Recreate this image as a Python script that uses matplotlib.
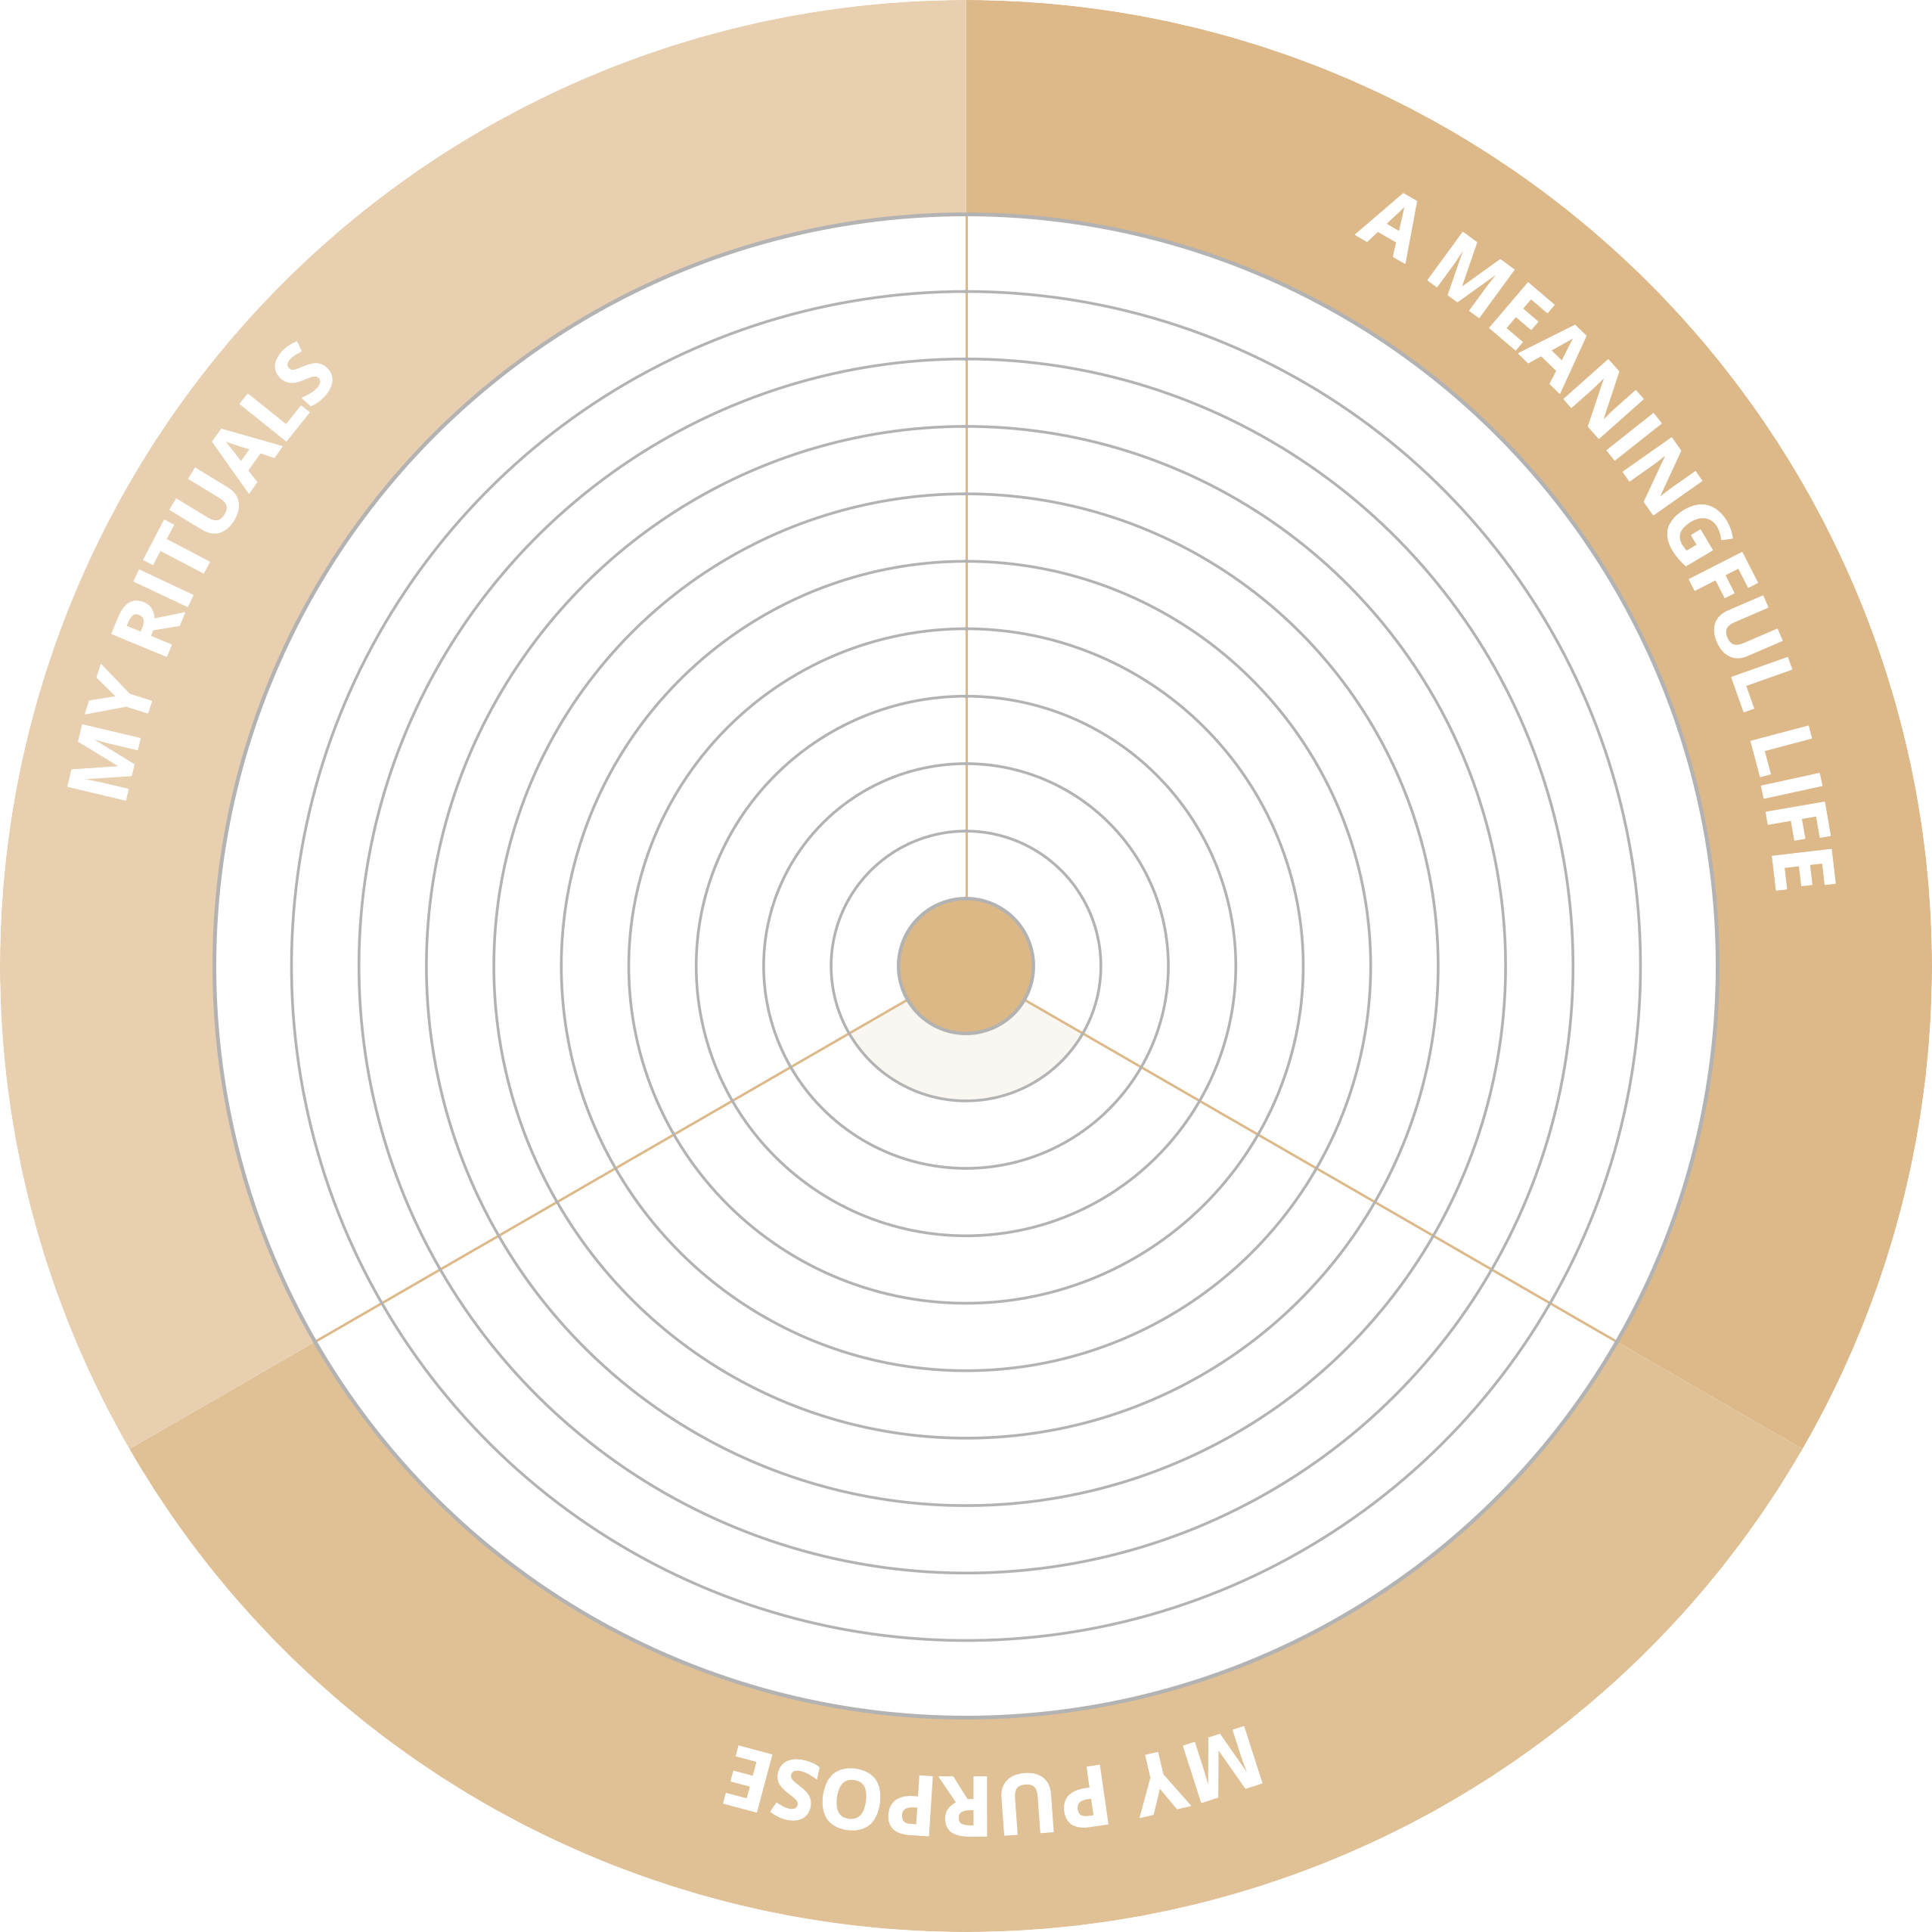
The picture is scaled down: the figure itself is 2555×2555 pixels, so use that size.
import numpy as np
import matplotlib
matplotlib.use("Agg")
import matplotlib.pyplot as plt
import matplotlib.patheffects as pe
from matplotlib.font_manager import FontProperties
from matplotlib.textpath import TextToPath

# DATA
categories = ["A MEANINGFUL LIFE", "MY PURPOSE", "MY RITUALS"]
scores = [0, 1, 0]
levels = list(range(1, 11))   # level 1 is the centre hub

# STYLE
SIZE_PX = 2555
DPI = 100
R_OUT = SIZE_PX / 2
R_DISC = 994
STEP = 89.2
ring_colors = ["#DDB98A", "#E0C196", "#E8CFAF"]
hub_color = "#DCB887"
fill_color = "#FAF7F2"
grid_color = "#B3B3B3"
spoke_color = "#DDB98A"
px = 72 / DPI  # points per pixel

# label layout: centre angle (deg, cw from top), baseline radius at first / last letter
label_mid = [56.5, 178.0, 297.0]
label_rad = [(1095, 1076), (1070, 1074), (1132, 1136)]
FONT_PT = 110 * px
TRACK_PX = -1.0

fp = FontProperties(family="Open Sans", weight="bold", size=FONT_PT)
t2p = TextToPath()
thicken = [pe.withStroke(linewidth=1.2 * px, foreground="white")]


def advance(ch):
    # width of the glyph in pixels, including side bearings
    w2 = t2p.get_text_width_height_descent("HH", fp, ismath=False)[0]
    w3 = t2p.get_text_width_height_descent("H" + ch + "H", fp, ismath=False)[0]
    return (w3 - w2) / px


fig = plt.figure(figsize=(SIZE_PX / DPI, SIZE_PX / DPI), dpi=DPI)
fig.patch.set_facecolor("white")
ax = fig.add_axes([0, 0, 1, 1], projection="polar")
ax.set_theta_zero_location("N")
ax.set_theta_direction(-1)
ax.set_ylim(0, R_OUT)
ax.set_axis_off()

n = len(categories)
width = 2 * np.pi / n
centers = np.arange(n) * width + width / 2

# outer coloured ring
ax.bar(centers, R_OUT - R_DISC, width=width, bottom=R_DISC,
       color=ring_colors, linewidth=0, zorder=1)

# score wedges
hub = levels[0] * STEP
ax.bar(centers, np.array(scores) * STEP, width=width, bottom=hub,
       color=fill_color, linewidth=0, zorder=2)

# spokes between the categories
for k in range(n):
    a = k * width
    ax.plot([a, a], [0, R_DISC], color=spoke_color, lw=3.2 * px, zorder=3,
            solid_capstyle="butt")

# grid rings
th = np.linspace(0, 2 * np.pi, 1000)
for lv in levels[1:]:
    ax.plot(th, np.full_like(th, lv * STEP), color=grid_color, lw=3.6 * px, zorder=4)
ax.plot(th, np.full_like(th, R_DISC), color=grid_color, lw=5 * px, zorder=4)

# hub
ax.fill_between(th, 0, hub, color=hub_color, linewidth=0, zorder=5)
ax.plot(th, np.full_like(th, hub), color=grid_color, lw=4.5 * px, zorder=6)

# curved labels
for label, mid, (r0, r1) in zip(categories, label_mid, label_rad):
    adv = [advance(c) for c in label]
    total = sum(adv) + TRACK_PX * (len(label) - 1)
    rb = (r0 + r1) / 2
    pos = -total / 2
    for i, c in enumerate(label):
        s = pos + adv[i] / 2
        pos += adv[i] + TRACK_PX
        if c == " ":
            continue
        frac = i / (len(label) - 1)
        r = r0 + (r1 - r0) * frac
        ang = mid + np.degrees(s / rb)
        ax.text(np.radians(ang), r, c, fontproperties=fp, color="white",
                rotation=-ang, rotation_mode="anchor",
                ha="center", va="baseline", zorder=7, path_effects=thicken)

fig.savefig("out.png", dpi=DPI, facecolor="white")
